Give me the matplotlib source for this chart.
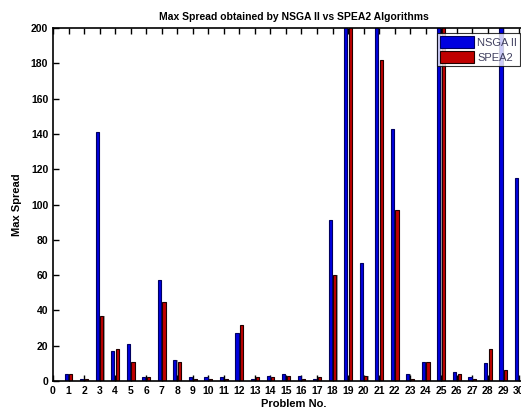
import matplotlib
matplotlib.use("Agg")
import matplotlib.pyplot as plt
import numpy as np

# data (values above 200 are clipped in the original)
problems = np.arange(0, 31)
nsga2 = [0, 4, 1, 141, 17, 21, 2, 57, 12, 2, 2, 2, 27, 1, 3, 4, 3, 1, 91, 230,
         67, 230, 143, 4, 11, 230, 5, 2, 10, 230, 115]
spea2 = [0, 4, 1, 37, 18, 11, 2, 45, 11, 1, 1, 1, 32, 2, 2, 3, 1, 2, 60, 230,
         3, 182, 97, 1, 11, 230, 4, 1, 18, 6, 0]

plt.rcParams["font.family"] = "Liberation Sans"

fig = plt.figure(figsize=(5.21, 4.12), dpi=100)
ax = fig.add_axes([53 / 521, 31 / 412, 31 * 15.53 / 521, 353 / 412])

w = 0.2
off = 0.15
x = np.asarray(problems, dtype=float)

# gray "shadow" like the MATLAB 3d bar look
ax.bar(x - off + 0.07, nsga2, width=w, color="#a0a0a0", zorder=1)
ax.bar(x + off + 0.07, spea2, width=w, color="#a0a0a0", zorder=1)
ax.bar(x - off, nsga2, width=w, color="#0000e0", edgecolor="#000060",
       linewidth=0.8, label="NSGA II", zorder=2)
ax.bar(x + off, spea2, width=w, color="#c00000", edgecolor="#200000",
       linewidth=0.8, label="SPEA2", zorder=2)

ax.set_xlim(0, 31)
ax.set_ylim(0, 200)
ax.set_xticks(problems)
ax.set_yticks(np.arange(0, 201, 20))
ax.tick_params(direction="in", top=True, right=False, length=4, width=1,
               labelsize=7.5)
for lab in ax.get_xticklabels() + ax.get_yticklabels():
    lab.set_fontweight("bold")
for side in ["left", "bottom", "top"]:
    ax.spines[side].set_linewidth(1.2)

ax.set_title("Max Spread obtained by NSGA II vs SPEA2 Algorithms",
             fontsize=7.5, fontweight="bold", pad=6)
ax.set_xlabel("Problem No.", fontsize=8, fontweight="bold", labelpad=2)
ax.set_ylabel("Max Spread", fontsize=8, fontweight="bold", labelpad=6)

leg = fig.legend(loc="upper left", bbox_to_anchor=(437 / 521, 1 - 33 / 412),
                 fontsize=8, frameon=True, fancybox=False, edgecolor="black",
                 handlelength=3.0, handleheight=1.2, borderpad=0.3,
                 labelspacing=0.3, handletextpad=0.3, borderaxespad=0)
leg.get_frame().set_linewidth(0.8)
for t in leg.get_texts():
    t.set_color("#404060")

fig.savefig("out.png", dpi=100)
